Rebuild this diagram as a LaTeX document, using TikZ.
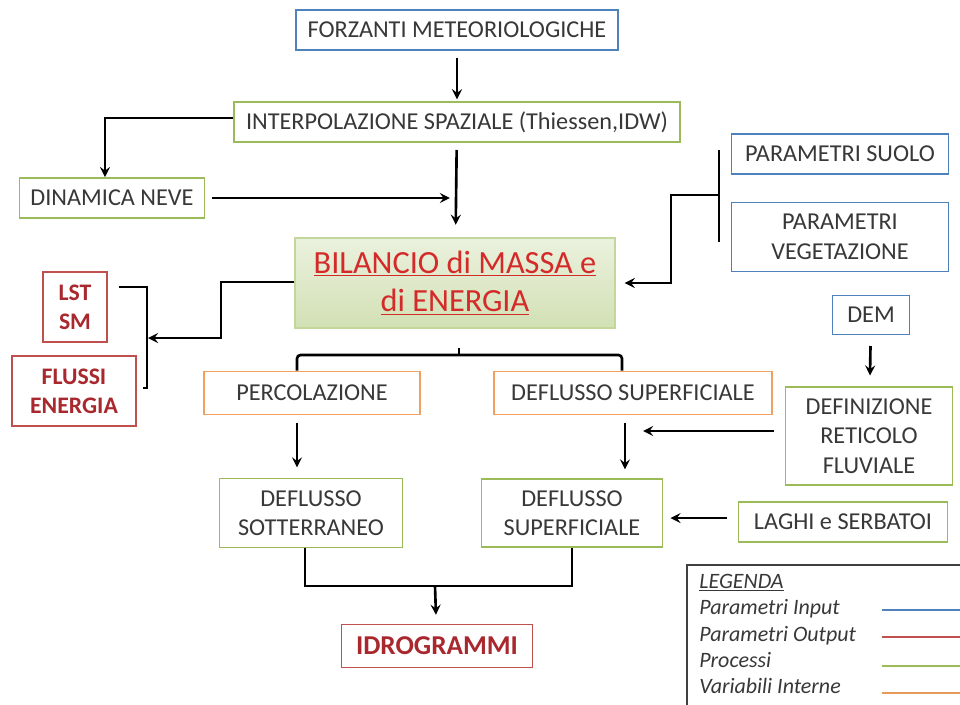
\documentclass[tikz,border=0pt]{standalone}
\usepackage{fontspec}
\setmainfont{Carlito}
\usepackage{tikz}
\usetikzlibrary{arrows,
                positioning,
                calc}
\definecolor{inblue}{HTML}{4F81BD}
\definecolor{outred}{HTML}{C0504D}
\definecolor{procgreen}{HTML}{9BBB59}
\definecolor{varorange}{HTML}{F0A060}
\definecolor{txtgray}{HTML}{383838}
\definecolor{darkred}{HTML}{A8282E}
\definecolor{bilred}{HTML}{D42A2A}
\tikzstyle{arrow} = [line width=1.5pt,->,>=stealth]
\tikzstyle{link} = [line width=1.5pt]
\tikzstyle{box} = [draw, line width=1.1pt, text=txtgray, align=center, inner sep=2pt,
                   font=\fontsize{13.8}{16.8}\selectfont]
\tikzstyle{inbox} = [box, draw=inblue]
\tikzstyle{outbox} = [box, draw=outred, text=darkred, font=\fontsize{13.5}{16.5}\selectfont\bfseries]
\tikzstyle{procbox} = [box, draw=procgreen]
\tikzstyle{varbox} = [box, draw=varorange]

\begin{document}
\begin{tikzpicture}[x=0.02cm,y=-0.02cm]
    \clip (0,0) rectangle (960,704);
    \fill[white] (0,0) rectangle (960,704);

    % input and process boxes
    \node[inbox, minimum width=6.44cm, minimum height=0.8cm] (forz) at (457,30) {FORZANTI METEORIOLOGICHE};
    \node[procbox, minimum width=8.92cm, minimum height=0.8cm] (interp) at (457,122) {INTERPOLAZIONE SPAZIALE (Thiessen,IDW)};
    \node[procbox, minimum width=3.7cm, minimum height=0.8cm] (neve) at (112,198) {DINAMICA NEVE};
    \node[box, draw=procgreen!60, top color=procgreen!20, bottom color=procgreen!45,
          minimum width=6.4cm, minimum height=1.8cm, text=bilred,
          font=\fontsize{18.4}{22}\selectfont] (bil) at (455,283)
          {\underline{BILANCIO di MASSA e}\\\underline{di ENERGIA}};
    \node[inbox, minimum width=4.34cm, minimum height=0.8cm] (suolo) at (840,154) {PARAMETRI SUOLO};
    \node[inbox, minimum width=4.34cm, minimum height=1.38cm] (veg) at (840,237) {PARAMETRI\\VEGETAZIONE};

    % outputs
    \node[outbox, minimum width=1.28cm, minimum height=1.4cm] (lst) at (75,307) {LST\\SM};
    \node[outbox, minimum width=2.48cm, minimum height=1.4cm] (flussi) at (74,391) {FLUSSI\\ENERGIA};

    % internal variables
    \node[varbox, minimum width=4.32cm, minimum height=0.86cm] (perc) at (312,393) {PERCOLAZIONE};
    \node[varbox, minimum width=5.56cm, minimum height=0.86cm] (defsup) at (633,393) {DEFLUSSO SUPERFICIALE};
    \node[procbox, minimum width=3.66cm, minimum height=1.38cm] (sott) at (311,513) {DEFLUSSO\\SOTTERRANEO};
    \node[procbox, minimum width=3.62cm, minimum height=1.36cm] (sup) at (572,513) {DEFLUSSO\\SUPERFICIALE};

    % river network
    \node[inbox, minimum width=1.54cm, minimum height=0.78cm] (dem) at (871,315) {DEM};
    \node[procbox, minimum width=3.34cm, minimum height=1.96cm] (def) at (869,436) {DEFINIZIONE\\RETICOLO\\FLUVIALE};
    \node[procbox, minimum width=4.18cm, minimum height=0.8cm] (laghi) at (843,522) {LAGHI e SERBATOI};
    \node[outbox, minimum width=3.82cm, minimum height=0.86cm, font=\fontsize{15.5}{18}\selectfont\bfseries] (idro) at (437,646) {IDROGRAMMI};

    % junctions
    \coordinate (jneve) at (457,195);
    \coordinate (brtop) at (719,150);
    \coordinate (brbot) at (719,242);
    \coordinate (brmid) at (719,195);
    \coordinate (lbr) at (148,338);
    \coordinate (spl) at (459,355);
    \coordinate (mrg) at (435,586);

    \draw[arrow, shorten <=4pt, shorten >=1pt] (forz) -- (interp);
    \draw[arrow] ([yshift=0.08cm]interp.west) -| ([xshift=-0.14cm]neve.north);
    \draw[arrow, shorten <=4pt, shorten >=7pt] (interp) -- (bil);
    \draw[arrow, shorten <=4pt, shorten >=4pt] (neve.east) -- (neve.east -| jneve);

    \draw[link] (brtop) -- (brbot);
    \draw[arrow, shorten >=5pt] (brmid) -- ++(-48,0) |- (bil.east);

    \draw[link] ([xshift=6pt,yshift=0.4cm]lst.east) -| (147,388) -- ++(-4,0);
    \draw[arrow] ([yshift=0.02cm]bil.west) -- ++(-73,0) |- (lbr);

    \draw[link, rounded corners=2pt] ([xshift=-0.3cm]perc.north) |- ([xshift=-0.22cm]defsup.north |- spl) -- ([xshift=-0.22cm]defsup.north);
    \draw[link] (spl) -- ++(0,-7);

    \draw[arrow, shorten <=4pt] ([xshift=-0.3cm]perc.south) -- ++(0,52);
    \draw[arrow, shorten <=4pt] ([xshift=-0.16cm]defsup.south) -- ++(0,54);
    \draw[arrow, shorten <=6pt, shorten >=2pt] ([yshift=0.1cm]def.west) -- ++(-145,0);
    \draw[arrow, shorten <=6pt, shorten >=4pt] ([yshift=0.08cm]laghi.west) -- ([yshift=0.08cm]laghi.west -| sup.east);
    \draw[arrow, shorten <=6pt, shorten >=6pt] (dem) -- (def);

    \draw[link] ([xshift=-0.12cm]sott.south) |- (mrg) -| (sup.south);
    \draw[arrow, shorten >=5pt] (mrg) -- (idro);

    % legend
    \draw[line width=1pt, black!75] (687,565) rectangle (990,720);
    \begin{scope}[font=\fontsize{12.5}{14}\selectfont\itshape, text=txtgray, anchor=base west, inner sep=0pt]
        \node (leg0) at (699,588) {\underline{LEGENDA}};
        \node (leg1) at (699,614) {Parametri Input};
        \node (leg2) at (699,641) {Parametri Output};
        \node (leg3) at (699,667) {Processi};
        \node (leg4) at (699,693) {Variabili Interne};
    \end{scope}
    \draw[line width=1.5pt, inblue] (882,610) -- (962,610);
    \draw[line width=1.5pt, outred] (882,637) -- (962,637);
    \draw[line width=1.5pt, procgreen] (882,666) -- (962,666);
    \draw[line width=1.5pt, varorange!80!brown] (882,693) -- (962,693);
\end{tikzpicture}
\end{document}
